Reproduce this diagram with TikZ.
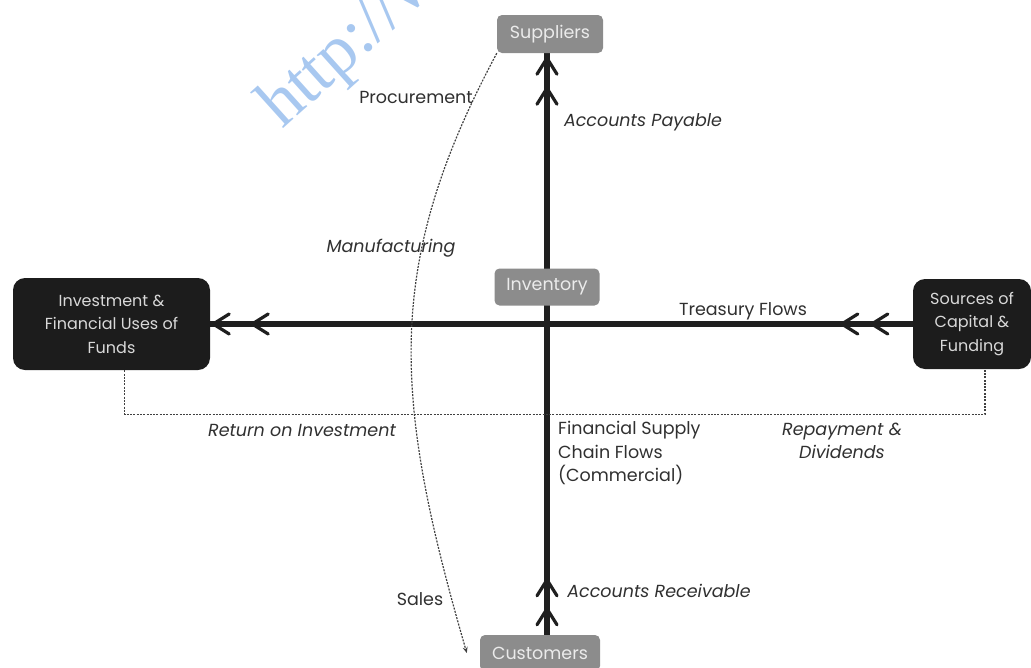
\documentclass[tikz,border=0pt]{standalone}
\usepackage{fontspec}
\setmainfont{Poppins}
\newfontfamily\wmfont{Liberation Serif}
\usetikzlibrary{arrows.meta,decorations.markings,backgrounds,calc}

\definecolor{boxgray}{HTML}{8C8C8C}
\definecolor{boxdark}{HTML}{1C1C1C}
\definecolor{labelgray}{HTML}{303030}
\definecolor{wmblue}{HTML}{A8C8F0}

\begin{document}
\begin{tikzpicture}[x=1pt,y=-1pt,
  lightbox/.style={fill=boxgray, rounded corners=5pt, text=white!92!black,
    font=\fontsize{17.5}{20}\selectfont, inner sep=0pt},
  darkbox/.style={fill=boxdark, rounded corners=12pt, text=white!85!black,
    align=center, font=\fontsize{16}{23.5}\selectfont, inner sep=0pt},
  lbl/.style={text=labelgray, font=\fontsize{17.5}{23.5}\selectfont, inner sep=0pt},
  ital/.style={text=labelgray, font=\fontsize{17.5}{22.5}\selectfont\itshape, inner sep=0pt},
  mainflow/.style={line width=6.5pt, draw=black!88},
  chev/.style={line width=3.2pt, line cap=round, line join=round, draw=black!88},
  dotline/.style={draw=black!75, line width=1.2pt, dash pattern=on 2pt off 1.3pt},
]
\useasboundingbox (0,0) rectangle (1031,667);

% web address stamped across the upper left
\begin{scope}
  \clip (0,0) rectangle (1031,667);
  \node[rotate=42, anchor=base west, inner sep=0pt, text=wmblue,
    font=\wmfont\fontsize{70}{72}\selectfont] (wm) at (282,130) {http://www};
\end{scope}

% nodes
\node[lightbox, minimum width=106pt, minimum height=38pt] (suppliers) at (550,34) {Suppliers};
\node[lightbox, minimum width=105pt, minimum height=37pt] (inventory) at (547,287) {Inventory};
\node[lightbox, minimum width=120pt, minimum height=36pt] (customers) at (540,653) {Customers};
\node[darkbox, minimum width=197pt, minimum height=92pt] (invest) at (111.5,324)
  {Investment \&\\Financial Uses of\\Funds};
\node[darkbox, minimum width=118pt, minimum height=90pt] (sources) at (972,324)
  {Sources of\\Capital \&\\Funding};

% flows
\begin{scope}[on background layer]
  \draw[mainflow, postaction={decorate}, decoration={markings,
      mark=at position 26pt with {\draw[chev] (-16pt,10pt) -- (0pt,0pt) -- (-16pt,-10pt);},
      mark=at position 55pt with {\draw[chev] (-16pt,10pt) -- (0pt,0pt) -- (-16pt,-10pt);},
      mark=at position -35pt with {\draw[chev] (-16pt,10pt) -- (0pt,0pt) -- (-16pt,-10pt);},
      mark=at position -5pt with {\draw[chev] (-16pt,10pt) -- (0pt,0pt) -- (-16pt,-10pt);}}]
    (inventory.center |- customers.north) -- (inventory.center |- suppliers.south);
  \draw[mainflow, postaction={decorate}, decoration={markings,
      mark=at position 41pt with {\draw[chev] (-16pt,10pt) -- (0pt,0pt) -- (-16pt,-10pt);},
      mark=at position 71pt with {\draw[chev] (-16pt,10pt) -- (0pt,0pt) -- (-16pt,-10pt);},
      mark=at position -42pt with {\draw[chev] (-16pt,10pt) -- (0pt,0pt) -- (-16pt,-10pt);},
      mark=at position -3pt with {\draw[chev] (-16pt,10pt) -- (0pt,0pt) -- (-16pt,-10pt);}}]
    (sources.west) -- (invest.east);
  \draw[dotline] ([xshift=13pt]invest.south) -- ++(0,44) -| ([xshift=13pt]sources.south);
  \draw[dotline, -{Stealth[length=6pt,width=5pt]}] (suppliers.south west)
    .. controls (383,266) and (393,398) .. ([xshift=-13pt]customers.west);
\end{scope}

% labels
\node[lbl] (procure) at (416,97) {Procurement};
\node[ital] (payable) at (643,122) {Accounts Payable};
\node[ital] (manuf) at (391,248) {Manufacturing};
\node[lbl] (treasury) at (743,311) {Treasury Flows};
\node[ital] (roi) at (302,430) {Return on Investment};
\node[lbl, align=left, anchor=west] (fscf) at (558,453) {Financial Supply\\Chain Flows\\(Commercial)};
\node[ital, align=center] (repay) at (842,441) {Repayment \&\\Dividends};
\node[ital] (receivable) at (659,591) {Accounts Receivable};
\node[lbl] (sales) at (420,599) {Sales};
\end{tikzpicture}
\end{document}
